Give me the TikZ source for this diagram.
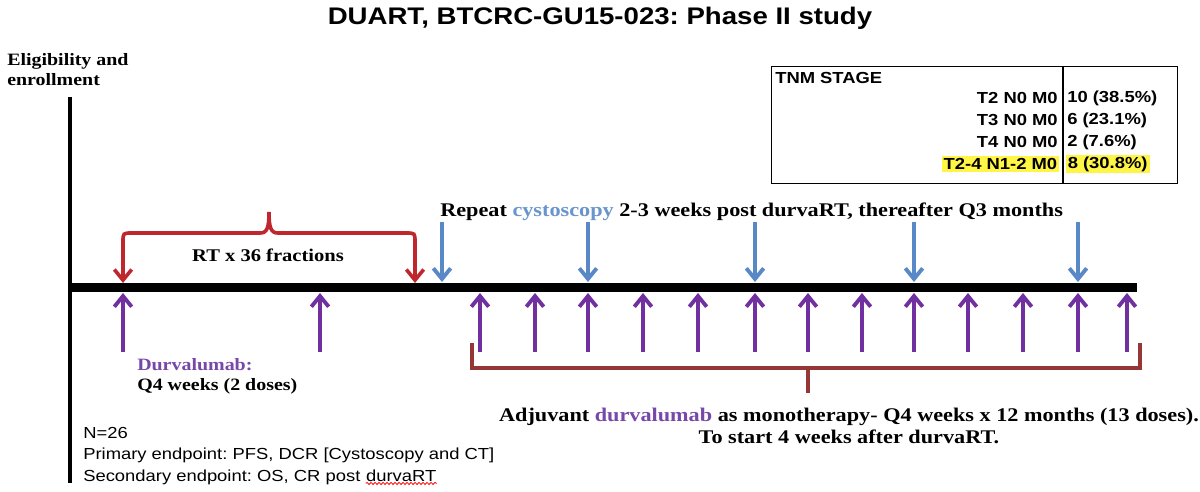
\documentclass[tikz,border=0pt]{standalone}
\usepackage{fontspec}
\setmainfont[FakeStretch=1.15]{Liberation Serif}
\setsansfont[FakeStretch=1.15]{Liberation Sans}
\usetikzlibrary{arrows.meta,decorations.pathmorphing}
\definecolor{durpurple}{RGB}{112,48,160}
\definecolor{durtext}{RGB}{118,72,168}
\definecolor{cysblue}{RGB}{88,136,198}
\definecolor{cystext}{RGB}{105,148,205}
\definecolor{rtred}{RGB}{192,39,45}
\definecolor{brackred}{RGB}{149,55,53}
\definecolor{hilite}{RGB}{255,245,70}
\tikzset{
  serifbold/.style={font=\rmfamily\bfseries\fontsize{14.5}{17}\selectfont, inner sep=0pt},
  sanstxt/.style={font=\sffamily\fontsize{12}{16}\selectfont, inner sep=0pt},
  tabtxt/.style={font=\sffamily\bfseries\fontsize{12}{14}\selectfont, inner sep=0pt},
  barb/.tip={Straight Barb[length=8pt,width=13pt]},
  purplearrow/.style={draw=durpurple, line width=2.9pt, -barb},
  bluearrow/.style={draw=cysblue, line width=2.9pt, -barb},
  bracepath/.style={draw=rtred, line width=2.7pt, barb-barb},
  brackpath/.style={draw=brackred, line width=2.7pt},
}
\begin{document}
\frenchspacing
\begin{tikzpicture}[x=0.75pt,y=-0.75pt]
\useasboundingbox (0,0) rectangle (1200,492);
% title
\node[font=\sffamily\bfseries\fontsize{18}{22}\selectfont, inner sep=0pt] (title) at (600,18) {DUART, BTCRC-GU15-023: Phase II study};
% eligibility
\node[align=left, anchor=west, inner sep=0pt, font=\rmfamily\bfseries\fontsize{13}{15}\selectfont] (elig) at (7,70) {Eligibility and\\enrollment};
% axes
\coordinate (vtop) at (70,97);
\coordinate (vbot) at (70,483);
\draw[line width=2.8pt] (vtop) -- (vbot);
\coordinate (tlstart) at (68,287.5);
\coordinate (tlend) at (1137,287.5);
\draw[line width=6.8pt] (tlstart) -- (tlend);
% table
\node[draw, line width=0.8pt, minimum width=406*0.75pt, minimum height=117*0.75pt, anchor=north west, inner sep=0pt] (tab) at (771,66) {};
\coordinate (divtop) at (1063,66);
\coordinate (divbot) at (1063,183);
\draw[line width=0.8pt] (divtop) -- (divbot);
\node[tabtxt, anchor=west] (tnm) at (775,78) {TNM STAGE};
\node[tabtxt, anchor=east] (r1a) at (1058,98) {T2 N0 M0};
\node[tabtxt, anchor=west] (r1b) at (1067,98) {10 (38.5\%)};
\node[tabtxt, anchor=east] (r2a) at (1058,120) {T3 N0 M0};
\node[tabtxt, anchor=west] (r2b) at (1067,120) {6 (23.1\%)};
\node[tabtxt, anchor=east] (r3a) at (1058,142) {T4 N0 M0};
\node[tabtxt, anchor=west] (r3b) at (1067,142) {2 (7.6\%)};
\node[tabtxt, anchor=east, fill=hilite, inner sep=1.5pt] (r4a) at (1059.5,164) {T2-4 N1-2 M0};
\node[tabtxt, anchor=west, fill=hilite, inner sep=1.5pt] (r4b) at (1065.5,164) {8 (30.8\%)};
% RT brace
\coordinate (rtl) at (123,283);
\coordinate (rtr) at (415,283);
\draw[bracepath] (rtl) -- (123,242) .. controls (123,233) .. (132,233) -- (260,233)
  .. controls (267,233) and (269,228) .. (269,212)
  .. controls (269,228) and (271,233) .. (278,233) -- (406,233)
  .. controls (415,233) .. (415,242) -- (rtr);
\node[serifbold, font=\rmfamily\bfseries\fontsize{13.4}{16}\selectfont] (rt) at (268,255) {RT x 36 fractions};
% cystoscopy
\node[serifbold, anchor=west] (rep) at (440,212) {Repeat \textcolor{cystext}{cystoscopy} 2-3 weeks post durvaRT, thereafter Q3 months};
\foreach \x [count=\i] in {442,588,755,914,1078} {
  \coordinate (bt\i) at (\x,222);
  \coordinate (bb\i) at (\x,282);
  \draw[bluearrow] (bt\i) -- (bb\i);
}
% purple arrows
\foreach \x [count=\i] in {123,320,480,535,588,643,698,755,808,862,914,968,1023,1078,1127} {
  \coordinate (pb\i) at (\x,352);
  \coordinate (pt\i) at (\x,293);
  \draw[purplearrow] (pb\i) -- (pt\i);
}
% durvalumab induction text
\node[align=left, anchor=north west, inner sep=0pt, font=\rmfamily\bfseries\fontsize{13}{15}\selectfont] (dur) at (137,358) {\textcolor{durtext}{Durvalumab:}\\Q4 weeks (2 doses)};
% adjuvant bracket
\coordinate (bl) at (472,343);
\coordinate (br) at (1140,343);
\coordinate (bs) at (808,393);
\draw[brackpath] (bl) -- (472,368) -- (1140,368) -- (br);
\draw[brackpath] (808,368) -- (bs);
\node[serifbold, align=center] (adj) at (849,426) {Adjuvant \textcolor{durtext}{durvalumab} as monotherapy- Q4 weeks x 12 months (13 doses).\\To start 4 weeks after durvaRT.};
% bottom left text
\node[sanstxt, anchor=west] (n26) at (83,433) {N=26};
\node[sanstxt, anchor=west] (prim) at (83,455) {Primary endpoint: PFS, DCR [Cystoscopy and CT]};
\node[sanstxt, anchor=base west] (sec1) at (83,481) {Secondary endpoint: OS, CR post};
\node[sanstxt, anchor=base west] (sec2) at ([xshift=3.8pt]sec1.base east) {durvaRT};
\draw[red, line width=0.6pt, decorate, decoration={snake, amplitude=0.8pt, segment length=3pt}] ([yshift=-1.5pt]sec2.south west) -- ([yshift=-1.5pt]sec2.south east);
\end{tikzpicture}
\end{document}
